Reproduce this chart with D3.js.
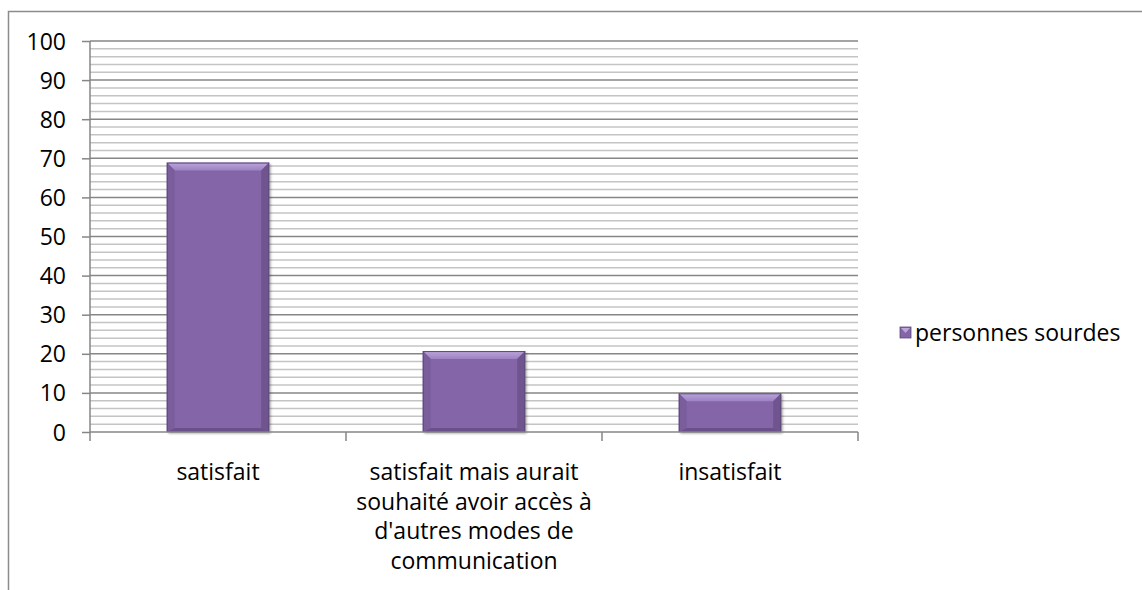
<!DOCTYPE html>
<html><head><meta charset="utf-8">
<script src="https://cdn.jsdelivr.net/npm/d3@7"></script>
<style>body{margin:0;background:#fff;} svg{display:block;}</style>
</head><body>
<svg id="c" width="1142" height="590"></svg>
<script>
const categories = ["satisfait", "satisfait mais aurait souhaité avoir accès à d'autres modes de communication", "insatisfait"];
const categoryLines = [["satisfait"], ["satisfait mais aurait", "souhaité avoir accès à", "d'autres modes de", "communication"], ["insatisfait"]];
const values = [68.9, 20.7, 9.9];
const seriesName = "personnes sourdes";
const yTicks = [0,10,20,30,40,50,60,70,80,90,100];

const svg = d3.select("#c");
const font = "Open Sans, Noto Sans, sans-serif";
const fs = 23;
const L = 90, R = 858, T = 41, B = 432;

// outer border
svg.append("path").attr("d", "M8.5,590 L8.5,11.5 L1142,11.5").attr("fill","none").attr("stroke","#8c8c8c").attr("stroke-width",1.5);

const x = d3.scaleBand().domain(categories).range([L, R]).paddingInner(0.6).paddingOuter(0.3);
const xo = d3.scaleBand().domain(categories).range([L, R]);
const y = d3.scaleLinear().domain([0, 100]).range([B, T]);

// minor grid
const minor = d3.range(0, 101, 2).filter(v => v % 10 !== 0);
svg.append("g").selectAll("line").data(minor).join("line")
  .attr("x1", L).attr("x2", R).attr("y1", d => y(d)).attr("y2", d => y(d))
  .attr("stroke", "#c4c4c4").attr("stroke-width", 1.5);
// major grid
svg.append("g").selectAll("line").data(yTicks.filter(v=>v>0)).join("line")
  .attr("x1", L).attr("x2", R).attr("y1", d => y(d)).attr("y2", d => y(d))
  .attr("stroke", "#868686").attr("stroke-width", 1.5);

// defs for bars
const defs = svg.append("defs");
const g1 = defs.append("linearGradient").attr("id","topg").attr("x1",0).attr("y1",0).attr("x2",0).attr("y2",1);
g1.append("stop").attr("offset",0).attr("stop-color","#bba6da");
g1.append("stop").attr("offset",1).attr("stop-color","#9c82c2");
const f = defs.append("filter").attr("id","sh").attr("x","-10%").attr("y","-10%").attr("width","130%").attr("height","130%");
f.append("feDropShadow").attr("dx",1.5).attr("dy",1.5).attr("stdDeviation",1.2).attr("flood-color","#000").attr("flood-opacity",0.35);

const bars = svg.append("g");
categories.forEach((c, i) => {
  const x0 = x(c), w = x.bandwidth(), y0 = y(values[i]), h = y(0) - y0;
  const bv = Math.min(8, h/3);
  const g = bars.append("g");
  g.append("rect").attr("x", x0).attr("y", y0).attr("width", w).attr("height", h)
    .attr("fill", "#8466a8").attr("filter","url(#sh)");
  g.append("path").attr("d", `M${x0},${y0} L${x0+w},${y0} L${x0+w-bv},${y0+bv} L${x0+bv},${y0+bv} Z`).attr("fill","url(#topg)");
  g.append("path").attr("d", `M${x0},${y0} L${x0+bv},${y0+bv} L${x0+bv},${y0+h-bv*0.5} L${x0},${y0+h} Z`).attr("fill","#7a5d9c");
  g.append("path").attr("d", `M${x0+w},${y0} L${x0+w-bv},${y0+bv} L${x0+w-bv},${y0+h-bv*0.5} L${x0+w},${y0+h} Z`).attr("fill","#6f548f");
  g.append("path").attr("d", `M${x0},${y0+h} L${x0+bv},${y0+h-bv*0.5} L${x0+w-bv},${y0+h-bv*0.5} L${x0+w},${y0+h} Z`).attr("fill","#6a508a");
  g.append("rect").attr("x", x0+0.5).attr("y", y0+0.5).attr("width", w-1).attr("height", h-1)
    .attr("fill","none").attr("stroke","#5e4a78").attr("stroke-width",1);
});

// y axis
const ya = svg.append("g").attr("transform", `translate(${L},0)`)
  .call(d3.axisLeft(y).tickValues(yTicks).tickSize(8).tickPadding(16));
ya.select(".domain").attr("stroke","#868686").attr("stroke-width",1.5).attr("d", `M0,${B}V${T}`);
ya.selectAll(".tick line").attr("stroke","#868686").attr("stroke-width",1.5);
ya.selectAll(".tick text").attr("font-family", font).attr("font-size", fs).attr("fill","#000").attr("dy","0.35em");

// x axis
const xa = svg.append("g").attr("transform", `translate(0,${B})`);
xa.append("line").attr("x1",L).attr("x2",R).attr("stroke","#868686").attr("stroke-width",1.5);
const bounds = categories.map(c => xo(c)).concat([R]);
xa.selectAll("line.t").data(bounds).join("line").attr("class","t")
  .attr("x1", d=>d).attr("x2", d=>d).attr("y1",0).attr("y2",9).attr("stroke","#868686").attr("stroke-width",1.5);
categories.forEach((c, i) => {
  const cx = x(c) + x.bandwidth()/2;
  const t = xa.append("text").attr("x", cx).attr("y", 48)
    .attr("text-anchor","middle").attr("font-family", font).attr("font-size", fs).attr("fill","#000");
  categoryLines[i].forEach((ln, j) => t.append("tspan").attr("x", cx).attr("dy", j===0?0:29.5).text(ln));
});

// legend
const lg = svg.append("g").attr("transform","translate(900,327)");
lg.append("rect").attr("width",11).attr("height",11).attr("fill","#8466a8").attr("stroke","#5e4a78").attr("stroke-width",0.8);
lg.append("path").attr("d","M1,1 L10,1 L5.5,6 Z").attr("fill","#bba6da");
lg.append("text").attr("x",15).attr("y",14).attr("font-family",font).attr("font-size",fs).attr("fill","#000").text(seriesName);
</script>
</body></html>
